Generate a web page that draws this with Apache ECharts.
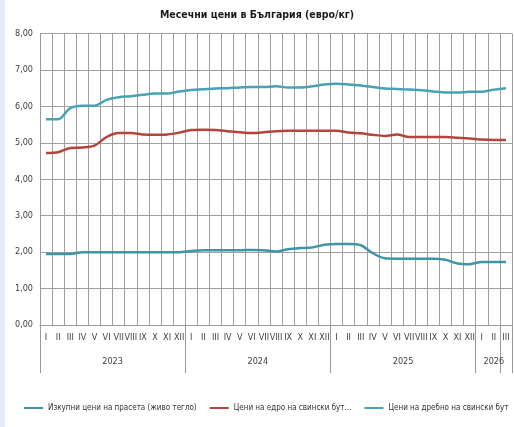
<!DOCTYPE html>
<html>
<head>
<meta charset="utf-8">
<script src="https://cdn.jsdelivr.net/npm/echarts@6/dist/echarts.min.js"></script>
<style>
html,body{margin:0;padding:0;background:#fff;}
#c{width:514px;height:427px;}
</style>
</head>
<body>
<div id="c"></div>
<script>
const months = ['I','II','III','IV','V','VI','VII','VIII','IX','X','XI','XII',
                'I','II','III','IV','V','VI','VII','VIII','IX','X','XI','XII',
                'I','II','III','IV','V','VI','VII','VIII','IX','X','XI','XII',
                'I','II','III'];
const years = ['2023','2024','2025','2026'];
const yearLabelIndex = {5:'2023', 17:'2024', 29:'2025', 37:'2026'};
const yTicks = [0,1,2,3,4,5,6,7,8];

const seriesNames = ['Изкупни цени на прасета (живо тегло)', 'Цени на едро на свински бут...', 'Цени на дребно на свински бут'];

const live = [1.95,1.95,1.95,2.00,2.00,2.00,2.00,2.00,2.00,2.00,2.00,2.00,
              2.03,2.05,2.05,2.05,2.05,2.06,2.05,2.02,2.08,2.11,2.13,2.20,
              2.22,2.22,2.19,1.97,1.83,1.82,1.82,1.82,1.82,1.79,1.69,1.67,
              1.73,1.73,1.73];
const wholesale = [4.72,4.74,4.86,4.87,4.92,5.16,5.27,5.27,5.23,5.22,5.23,5.28,
                   5.35,5.36,5.35,5.32,5.29,5.27,5.29,5.32,5.33,5.33,5.33,5.33,
                   5.33,5.28,5.26,5.22,5.19,5.23,5.16,5.16,5.16,5.16,5.14,5.12,
                   5.09,5.08,5.08];
const retail = [5.65,5.65,5.95,6.02,6.02,6.18,6.25,6.28,6.32,6.35,6.35,6.41,
                6.45,6.47,6.49,6.50,6.52,6.53,6.53,6.55,6.52,6.52,6.55,6.60,
                6.62,6.60,6.57,6.53,6.49,6.48,6.46,6.44,6.41,6.38,6.38,6.40,
                6.40,6.46,6.50];

const FONT = "'DejaVu Sans Condensed', 'Liberation Sans', sans-serif";
const colors = ['#3D95A6', '#B5443D', '#46A2B4'];

const chart = echarts.init(document.getElementById('c'));
chart.setOption({
  backgroundColor: '#ffffff',
  animation: false,
  color: colors,
  graphic: [{type:'rect', left:0, top:0, shape:{width:5, height:427}, style:{fill:'#E4ECF8'}, silent:true}],
  title: {
    text: 'Месечни цени в България (евро/кг)',
    left: 'center', top: 5,
    textStyle: {fontFamily: FONT, fontSize: 10.5, fontWeight: 'bold', color: '#1a1a1a'}
  },
  legend: {
    bottom: 15, left: 24, padding: 0,
    itemWidth: 19, itemHeight: 2, itemGap: 13,
    icon: 'rect',
    textStyle: {fontFamily: FONT, fontSize: 8, color: '#333'},
    data: seriesNames
  },
  grid: {left: 40, right: 2, top: 33.5, bottom: 102, containLabel: false},
  xAxis: [{
    type: 'category', data: months, boundaryGap: true, position: 'bottom',
    axisLine: {show: true, lineStyle: {color: '#9a9a9a', width: 1}},
    axisTick: {show: false},
    axisLabel: {interval: 0, fontFamily: FONT, fontSize: 9, color: '#404040', margin: 8},
    splitLine: {show: true, interval: 0, lineStyle: {color: '#a0a0a0', width: 1}}
  }, {
    type: 'category', data: months, boundaryGap: true, position: 'bottom',
    axisLine: {show: false},
    axisTick: {show: true, length: 48, interval: 11, lineStyle: {color: '#9a9a9a'}},
    axisLabel: {
      interval: 0, margin: 32,
      formatter: function(v, i){
        const y = yearLabelIndex[i];
        if (!y) return '';
        return i === 37 ? '{b|' + y + '}' : '{a|' + y + '}';
      },
      rich: {
        a: {fontFamily: FONT, fontSize: 9, color: '#404040', padding: [0,0,0,12]},
        b: {fontFamily: FONT, fontSize: 9, color: '#404040'}
      }
    },
    splitLine: {show: false}
  }],
  yAxis: {
    type: 'value', min: 0, max: 8, interval: 1,
    axisLine: {show: true, lineStyle: {color: '#9a9a9a'}},
    axisTick: {show: false},
    axisLabel: {fontFamily: FONT, fontSize: 9, color: '#404040', margin: 7,
      formatter: function(v){ return v.toFixed(2).replace('.', ','); }},
    splitLine: {show: true, lineStyle: {color: '#a0a0a0', width: 1}}
  },
  series: [
    {name: seriesNames[0], type: 'line', data: live, smooth: 0.3, showSymbol: false, lineStyle: {width: 2.5}, xAxisIndex: 0},
    {name: seriesNames[1], type: 'line', data: wholesale, smooth: 0.3, showSymbol: false, lineStyle: {width: 2.5}, xAxisIndex: 0},
    {name: seriesNames[2], type: 'line', data: retail, smooth: 0.3, showSymbol: false, lineStyle: {width: 2.5}, xAxisIndex: 0}
  ]
});
</script>
</body>
</html>
